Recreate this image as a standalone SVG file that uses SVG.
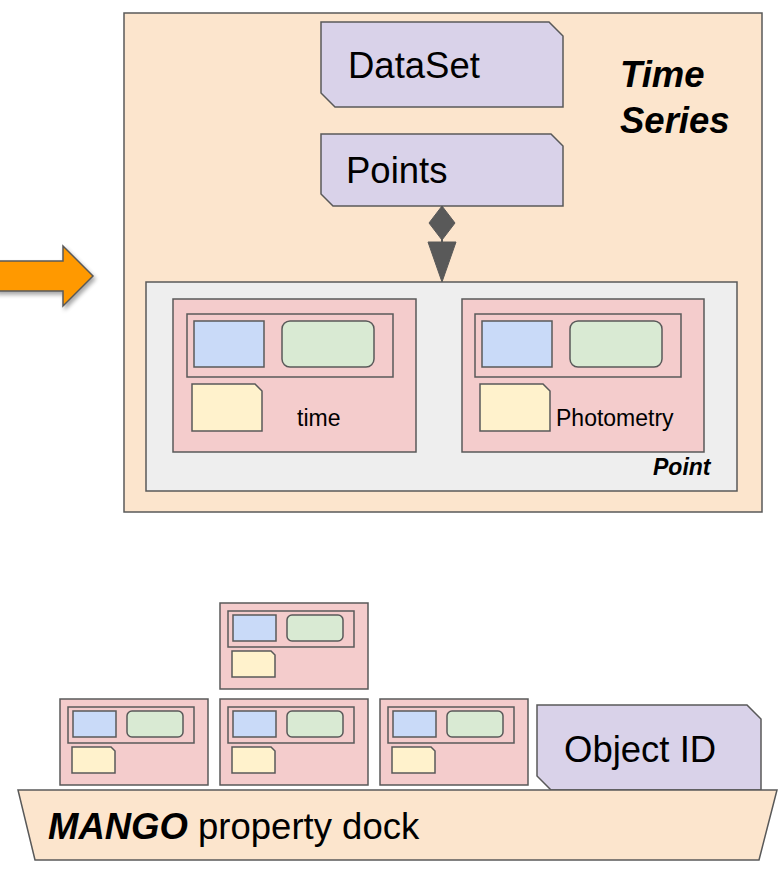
<svg xmlns="http://www.w3.org/2000/svg" width="779" height="872" viewBox="0 0 779 872">
<style>
.s{stroke:#595959;stroke-width:1.5}
.peach{fill:#fce5cd}
.purple{fill:#d9d2e9}
.gray{fill:#eeeeee}
.pink{fill:#f4cccc}
.blue{fill:#c9daf8}
.green{fill:#d9ead3}
.yellow{fill:#fff2cc}
.none{fill:none}
.t{font-family:"Liberation Sans",Arial,sans-serif;fill:#000}
.big{font-size:36.5px}
.bi{font-weight:bold;font-style:italic}
.small{font-size:23px}
</style>
<defs>
<filter id="sh" x="-20%" y="-20%" width="150%" height="150%">
<feGaussianBlur in="SourceAlpha" stdDeviation="2"/>
<feOffset dx="2" dy="3" result="b"/>
<feComponentTransfer><feFuncA type="linear" slope="0.35"/></feComponentTransfer>
<feMerge><feMergeNode/><feMergeNode in="SourceGraphic"/></feMerge>
</filter>
<g id="mini">
<rect class="s pink" x="0" y="0" width="148" height="86"/>
<rect class="s none" x="8" y="8" width="126" height="36"/>
<rect class="s blue" x="13" y="12" width="43" height="26"/>
<rect class="s green" x="67" y="12" width="56" height="26" rx="5"/>
<path class="s yellow" d="M12,48 H51 L55,52 V74 H12 Z"/>
</g>
</defs>

<g id="arrow-orange">
<path d="M-5,261 H63 V246 L93,276 L63,306 V291 H-5 Z" fill="#ff9900" stroke="#595959" stroke-width="1.5" filter="url(#sh)"/>
</g>

<g id="time-series">
<rect class="s peach" x="124" y="13" width="638" height="499"/>
<text class="t big bi" x="620" y="87">Time</text>
<text class="t big bi" x="620" y="133">Series</text>
</g>

<g id="dataset">
<path class="s purple" d="M321,22 H549 L563,36 V107 H335 L321,93 Z"/>
<text class="t big" x="348" y="78">DataSet</text>
</g>

<g id="points">
<path class="s purple" d="M321,134 H551 L563,146 V206 H333 L321,194 Z"/>
<text class="t big" x="346" y="183">Points</text>
</g>

<g id="point">
<rect class="s gray" x="146" y="282" width="591" height="209"/>
<text class="t small bi" x="653" y="475">Point</text>
</g>

<g id="time">
<rect class="s pink" x="173" y="299" width="243" height="153"/>
<rect class="s none" x="187" y="314" width="206" height="63"/>
<rect class="s blue" x="194" y="321" width="70" height="46"/>
<rect class="s green" x="282" y="321" width="92" height="46" rx="8"/>
<path class="s yellow" d="M192,384 H255 L262,391 V431 H192 Z"/>
<text class="t small" x="297" y="426">time</text>
</g>

<g id="photometry">
<rect class="s pink" x="462" y="299" width="242" height="153"/>
<rect class="s none" x="475" y="314" width="206" height="63"/>
<rect class="s blue" x="482" y="321" width="70" height="46"/>
<rect class="s green" x="570" y="321" width="92" height="46" rx="8"/>
<path class="s yellow" d="M480,384 H543 L550,391 V431 H480 Z"/>
<text class="t small" x="556" y="426">Photometry</text>
</g>

<g id="connectors">
<line x1="442" y1="206" x2="442" y2="250" stroke="#595959" stroke-width="2"/>
<path d="M442,206 L455,223 L442,240 L429,223 Z" fill="#595959" stroke="#595959" stroke-width="1"/>
<path d="M428,242 H456 L442,282 Z" fill="#595959" stroke="#595959" stroke-width="1"/>
</g>

<g id="mini-top"><use href="#mini" x="220" y="603"/></g>
<g id="mini-a"><use href="#mini" x="60" y="699"/></g>
<g id="mini-b"><use href="#mini" x="220" y="699"/></g>
<g id="mini-c"><use href="#mini" x="380" y="699"/></g>

<g id="object-id">
<path class="s purple" d="M537,705 H747 L761,719 V790 H551 L537,776 Z"/>
<text class="t big" x="564" y="762">Object ID</text>
</g>

<g id="dock">
<path class="s peach" d="M18,790 H777 L759,860 H35 Z"/>
<text class="t big" x="48" y="839"><tspan class="bi">MANGO</tspan> property dock</text>
</g>
</svg>
